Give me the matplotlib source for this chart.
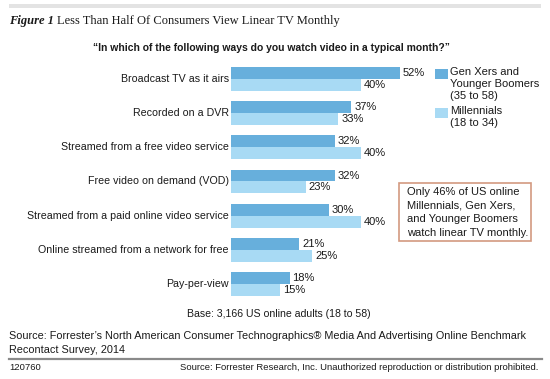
import matplotlib
matplotlib.use('Agg')
import matplotlib.pyplot as plt
from matplotlib.patches import Rectangle
from matplotlib.lines import Line2D
import numpy as np

categories = ['Broadcast TV as it airs', 'Recorded on a DVR',
              'Streamed from a free video service', 'Free video on demand (VOD)',
              'Streamed from a paid online video service',
              'Online streamed from a network for free', 'Pay-per-view']
genx = [52, 37, 32, 32, 30, 21, 18]
millennials = [40, 33, 40, 23, 40, 25, 15]
series_names = ['Gen Xers and\nYounger Boomers\n(35 to 58)', 'Millennials\n(18 to 34)']

DARK = '#67afdc'
LIGHT = '#a8daf4'
TXT = '#1a1a1a'
SANS = 'Liberation Sans'
SERIF = 'Liberation Serif'

W, H = 550, 379
fig = plt.figure(figsize=(W / 100, H / 100), dpi=100)
fig.patch.set_facecolor('white')


def fx(x):
    return x / W


def fy(y):
    return 1 - y / H


# bar area
ax = fig.add_axes([fx(231), fy(301), fx(3.25 * 60), (301 - 62) / H])
y = np.arange(len(categories))
bh = 0.35
ax.barh(y - bh / 2, genx, height=bh, color=DARK)
ax.barh(y + bh / 2, millennials, height=bh, color=LIGHT)
ax.set_xlim(0, 60)
ax.set_ylim(len(categories) - 0.5, -0.5)
ax.axis('off')

for i, (a, b) in enumerate(zip(genx, millennials)):
    ax.text(a + 0.9, i - bh / 2, f'{a}%', va='center', ha='left',
            fontsize=8, family=SANS, color=TXT)
    ax.text(b + 0.9, i + bh / 2, f'{b}%', va='center', ha='left',
            fontsize=8, family=SANS, color=TXT)
    ax.text(-0.7, i, categories[i], va='center', ha='right',
            fontsize=7.7, family=SANS, color=TXT)

# top band and title
fig.add_artist(Rectangle((fx(9), fy(8)), fx(532), 4 / H, color='#e3e3e3', lw=0))
t1 = fig.text(fx(9), fy(21), 'Figure 1', fontsize=9, family=SERIF,
              style='italic', weight='bold', va='center', color=TXT)
fig.canvas.draw()
bb = t1.get_window_extent()
fig.text(bb.x1 / W + fx(3), fy(21), 'Less Than Half Of Consumers View Linear TV Monthly',
         fontsize=9, family=SERIF, va='center', color=TXT)

fig.text(fx(93), fy(48), '\u201cIn which of the following ways do you watch video in a typical month?\u201d',
         fontsize=7.5, family=SANS, weight='bold', va='center', color=TXT)

# legend
fig.add_artist(Rectangle((fx(435), fy(79)), fx(13), 10 / H, color=DARK, lw=0))
fig.add_artist(Rectangle((fx(435), fy(118)), fx(13), 10 / H, color=LIGHT, lw=0))
fig.text(fx(450), fy(67), series_names[0], fontsize=8, family=SANS, va='top',
         linespacing=1.25, color=TXT)
fig.text(fx(450), fy(106), series_names[1], fontsize=8, family=SANS, va='top',
         linespacing=1.25, color=TXT)

# callout box
fig.add_artist(Rectangle((fx(399), fy(241)), fx(132), 58 / H, fill=False,
                         edgecolor='#d39a80', lw=1.2))
fig.text(fx(407), fy(187), 'Only 46% of US online\nMillennials, Gen Xers,\nand Younger Boomers\nwatch linear TV monthly.',
         fontsize=8, family=SANS, va='top', linespacing=1.45, color=TXT)

fig.text(fx(187), fy(314), 'Base: 3,166 US online adults (18 to 58)', fontsize=7.6,
         family=SANS, va='center', color=TXT)

fig.text(fx(9), fy(336), 'Source: Forrester\u2019s North American Consumer Technographics\u00ae Media And Advertising Online Benchmark',
         fontsize=7.8, family=SANS, va='center', color=TXT)
fig.text(fx(9), fy(350), 'Recontact Survey, 2014', fontsize=7.8, family=SANS,
         va='center', color=TXT)

fig.add_artist(Line2D([fx(9), fx(542)], [fy(359), fy(359)], color='#8a8a8a', lw=1.6))
fig.text(fx(9), fy(368), '120760', fontsize=6.8, family=SANS, va='center', color=TXT)
fig.text(fx(538), fy(368), 'Source: Forrester Research, Inc. Unauthorized reproduction or distribution prohibited.',
         fontsize=6.8, family=SANS, va='center', ha='right', color=TXT)

fig.savefig('out.png', dpi=100)
